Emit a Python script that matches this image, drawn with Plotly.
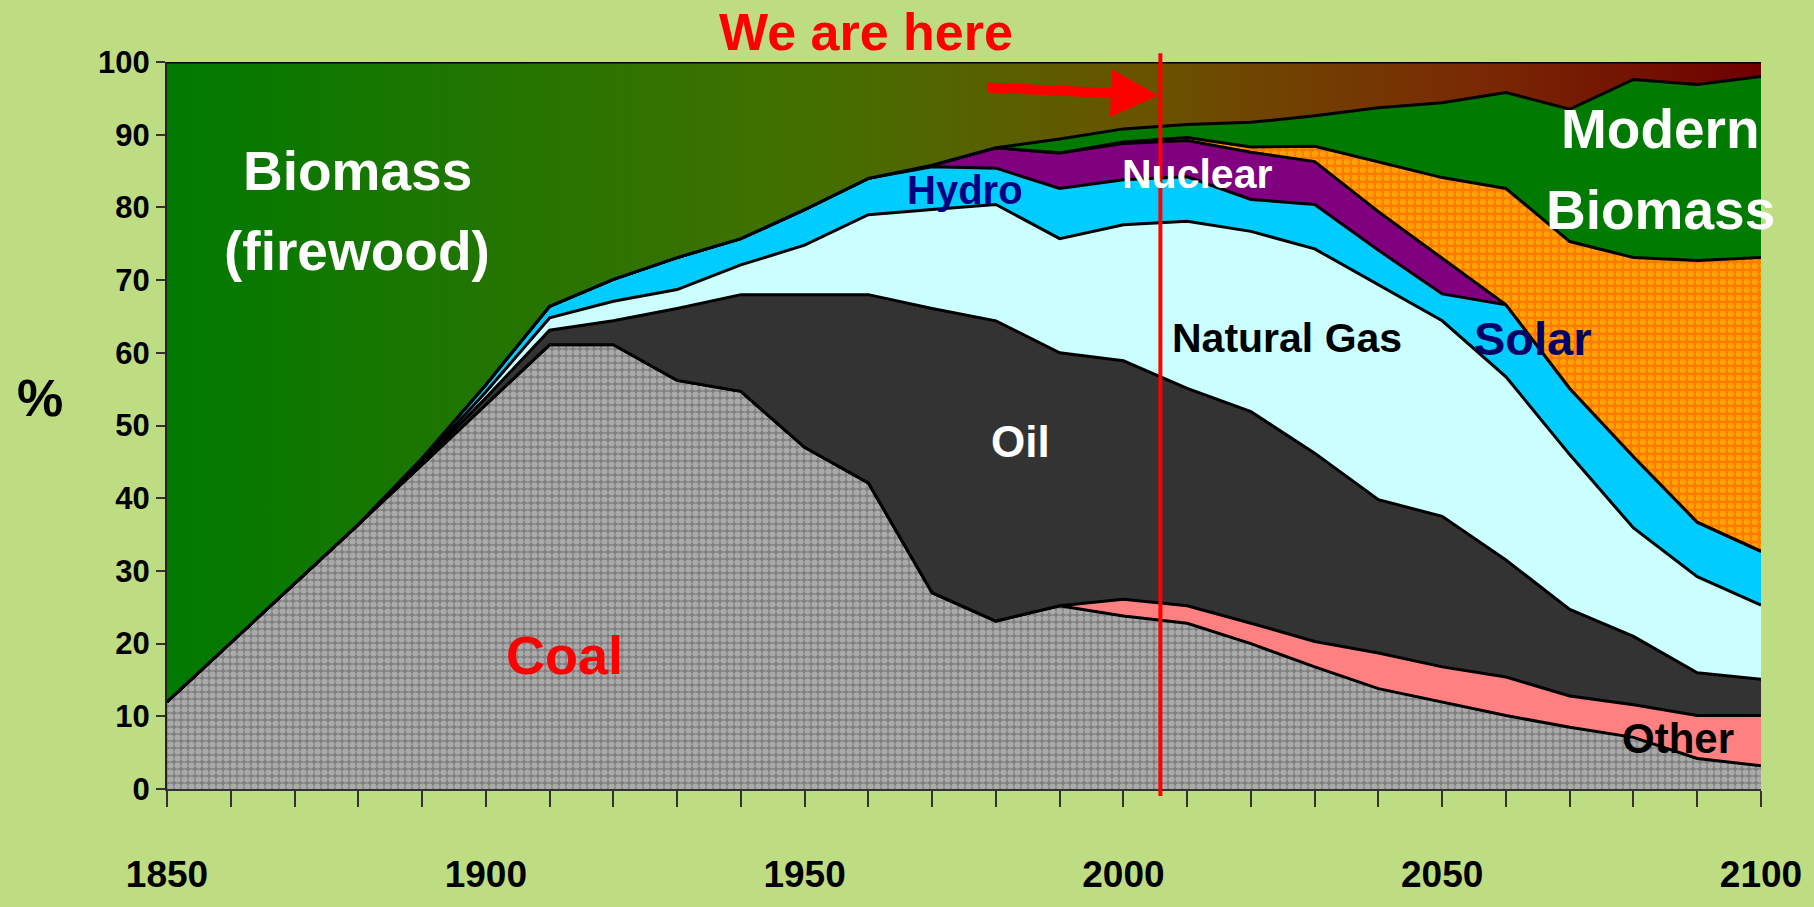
import plotly.graph_objects as go

# share of world primary energy (%) at each decade
years = list(range(1850, 2101, 10))

coal = [12.0, 20.1, 28.3, 36.4, 44.6, 52.8, 61.1, 61.1, 56.2, 54.7, 47.0, 42.1, 27.0,
        23.1, 25.2, 23.8, 22.8, 20.0, 16.8, 13.8, 11.9, 10.1, 8.5, 7.1, 4.2, 3.2]
other = [0, 0, 0, 0, 0, 0, 0, 0, 0, 0, 0, 0, 0,
         0, 0, 2.3, 2.4, 2.8, 3.5, 4.9, 4.9, 5.3, 4.3, 4.5, 5.9, 6.9]
oil = [0, 0, 0, 0, 0.3, 1.0, 2.0, 3.3, 9.9, 13.3, 21.0, 25.9, 39.1,
       41.3, 34.8, 32.8, 29.9, 29.1, 25.9, 21.1, 20.7, 16.1, 11.9, 9.4, 5.9, 5.0]
gas = [0, 0, 0, 0, 0.2, 0.8, 1.7, 2.7, 2.6, 4.1, 6.8, 11.0, 13.6,
       16.0, 15.7, 18.7, 23.0, 24.8, 28.1, 29.6, 26.9, 25.2, 21.3, 14.9, 13.2, 10.2]
hydro = [0, 0, 0, 0, 0.4, 1.0, 1.6, 3.0, 4.4, 3.6, 4.9, 5.0, 5.9,
         5.0, 6.9, 6.2, 6.1, 4.4, 6.1, 4.7, 3.7, 9.9, 9.1, 9.8, 7.5, 7.4]
nuclear = [0, 0, 0, 0, 0, 0, 0, 0, 0, 0, 0, 0, 0.2,
           2.8, 4.9, 5.0, 5.0, 6.5, 5.9, 5.3, 4.9, 0, 0, 0, 0, 0]
solar = [0, 0, 0, 0, 0, 0, 0, 0, 0, 0, 0, 0, 0,
         0, 0, 0.2, 0.4, 0.7, 2.1, 6.8, 11.1, 16.0, 20.2, 27.4, 36.0, 40.4]
modern_biomass = [0, 0, 0, 0, 0, 0, 0, 0, 0, 0, 0, 0, 0,
                  0, 1.9, 1.8, 1.8, 3.4, 4.2, 7.5, 10.3, 13.2, 18.2, 24.5, 24.2, 24.9]
firewood = [88.0, 79.9, 71.7, 63.6, 54.5, 44.4, 33.6, 29.9, 26.9, 24.3, 20.3, 16.0, 14.2,
            11.8, 10.6, 9.2, 8.6, 8.3, 7.4, 6.3, 5.6, 4.2, 6.5, 2.4, 3.1, 2.0]

tick_years = [1850, 1900, 1950, 2000, 2050, 2100]
we_are_here = 2005.8

FONT = "Liberation Sans, Arial, sans-serif"
BG = "#BEDC82"

fig = go.Figure()


def add_layer(values, name, color, **kw):
    fig.add_trace(
        go.Scatter(
            x=years,
            y=values,
            name=name,
            mode="lines",
            stackgroup="energy",
            line=dict(color="black", width=3),
            fillcolor=color,
            **kw,
        )
    )


add_layer(coal, "Coal", "#808080",
          fillpattern=dict(shape=".", bgcolor="#808080", fgcolor="#D4D4D4", size=7, solidity=0.6))
add_layer(other, "Other", "#FF8080")
add_layer(oil, "Oil", "#333333")
add_layer(gas, "Natural Gas", "#CCFFFF")
add_layer(hydro, "Hydro", "#00CCFF")
add_layer(nuclear, "Nuclear", "#800080")
add_layer(solar, "Solar", "#FF6600",
          fillpattern=dict(shape=".", bgcolor="#FF7800", fgcolor="#FFCC00", size=8, solidity=0.5))
add_layer(modern_biomass, "Modern Biomass", "#007A00")
add_layer(firewood, "Biomass (firewood)", "#3A6A00",
          fillgradient=dict(
              type="horizontal",
              colorscale=[[0, "#007A00"], [0.4, "#437000"], [0.62, "#6A5200"],
                          [0.82, "#7A2A04"], [1, "#6E0000"]],
          ))

# "we are here" marker
fig.add_shape(type="line", xref="x", yref="paper", x0=we_are_here, x1=we_are_here,
              y0=-0.0095, y1=1.012, line=dict(color="#FF0000", width=4))
fig.add_annotation(x=2005.5, y=95.4, ax=1978.5, ay=96.5, xref="x", yref="y",
                   axref="x", ayref="y", text="", showarrow=True, arrowhead=2,
                   arrowsize=0.95, arrowwidth=10, arrowcolor="#FF0000", standoff=0)


def label(text, x, y, size, color, xref="x", yref="y"):
    fig.add_annotation(x=x, y=y, xref=xref, yref=yref, text=f"<b>{text}</b>",
                       showarrow=False, xanchor="center", yanchor="middle",
                       font=dict(family=FONT, size=size, color=color))


label("We are here", 1959.7, 1.0406, 52, "#FF0000", yref="paper")
label("Biomass", 1879.8, 85.0, 55, "white")
label("(firewood)", 1879.8, 74.0, 55, "white")
label("Modern", 2084.2, 90.8, 55, "white")
label("Biomass", 2084.2, 79.7, 55, "white")
label("Hydro", 1975.2, 82.4, 40, "#000080")
label("Nuclear", 2011.5, 84.6, 41, "white")
label("Natural Gas", 2025.6, 62.0, 41, "black")
label("Oil", 1983.9, 47.8, 44, "white")
label("Coal", 1912.4, 18.4, 54, "#FF0000")
label("Solar", 2064.2, 61.9, 47, "#000066")
label("Other", 2087.0, 6.9, 42, "black")
label("%", -0.0796, 53.8, 52, "black", xref="paper")

fig.update_layout(
    width=1814,
    height=907,
    margin=dict(l=167, r=51, t=62, b=106),
    paper_bgcolor=BG,
    plot_bgcolor=BG,
    showlegend=False,
    xaxis=dict(
        range=[1850, 2100],
        tickvals=tick_years,
        ticks="outside",
        ticklen=16,
        tickwidth=1.5,
        tickcolor="#333333",
        minor=dict(dtick=10, tick0=1850, ticks="outside", ticklen=16, tickwidth=1.5,
                   tickcolor="#333333"),
        ticklabelstandoff=36,
        tickfont=dict(family=FONT, size=37, color="black", weight="bold"),
        showgrid=False,
        zeroline=False,
        showline=True,
        linecolor="#333333",
        linewidth=2,
    ),
    yaxis=dict(
        range=[0, 100],
        dtick=10,
        ticks="outside",
        ticklen=9,
        tickwidth=1.5,
        tickcolor="#333333",
        tickfont=dict(family=FONT, size=31, color="black", weight="bold"),
        showgrid=False,
        zeroline=False,
        showline=True,
        linecolor="#222222",
        linewidth=2,
    ),
)

# drop the page's default body margin so the 1814x907 figure sits flush in the window
fig.write_html("out.html", config={"displayModeBar": False},
               post_script="document.body.style.margin='0';")
